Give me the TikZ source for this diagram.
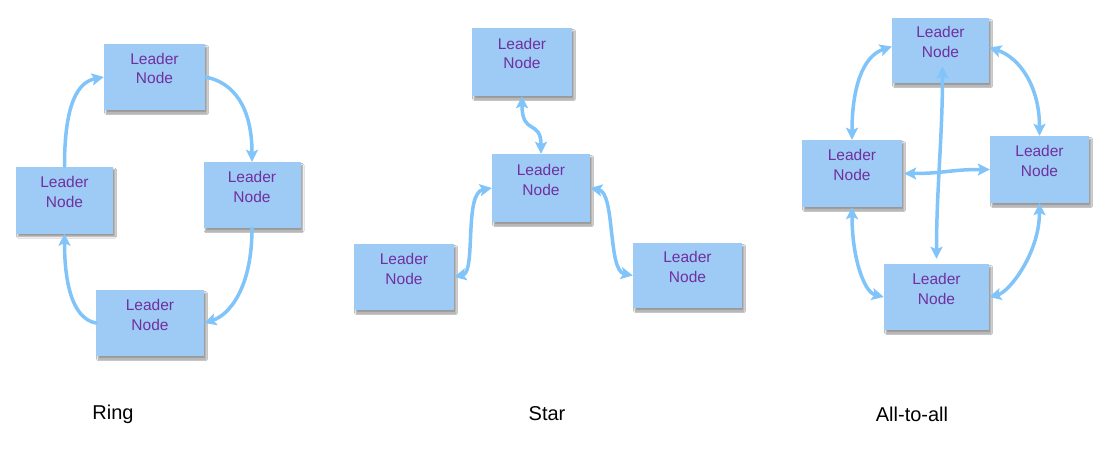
\documentclass[tikz,border=0pt]{standalone}
\usepackage{fontspec}
\setmainfont{Liberation Sans}
\usetikzlibrary{arrows.meta,shadows.blur,calc}
\definecolor{boxfill}{HTML}{9DCBF5}
\definecolor{txtpurple}{HTML}{7030A0}
\definecolor{arrowblue}{HTML}{80C4FA}
\newcommand\ldrnode{\begin{tabular}[b]{@{}c@{}}Leader\\Node\end{tabular}}
\tikzset{
  ln/.style={rectangle, fill=boxfill, text=txtpurple, align=center,
    font=\fontsize{15.5}{20}\selectfont, inner sep=0pt, text depth=20pt,
    blur shadow={shadow xshift=2pt, shadow yshift=-3pt, shadow blur radius=1.5pt, shadow opacity=40}},
  conn/.style={draw=arrowblue, line width=3.5pt, line cap=round},
  tipone/.style={conn, -{Stealth[length=12pt,width=12pt,inset=2.5pt]}},
  tiptwo/.style={conn, {Stealth[length=12pt,width=12pt,inset=2.5pt]}-{Stealth[length=12pt,width=12pt,inset=2.5pt]}},
  caption/.style={font=\fontsize{20}{24}\selectfont, text=black}
}
\begin{document}
\begin{tikzpicture}[x=1pt,y=-1pt]
\useasboundingbox[fill=white] (0,0) rectangle (1116,460);

% Ring
\node[ln, minimum width=101pt, minimum height=66pt] (rt) at (154.5,77) {\ldrnode};
\node[ln, minimum width=97pt, minimum height=66pt] (rr) at (252,195) {\ldrnode};
\node[ln, minimum width=97pt, minimum height=67pt] (rl) at (64.5,200) {\ldrnode};
\node[ln, minimum width=108pt, minimum height=66pt] (rb) at (150,323) {\ldrnode};

\draw[tipone] (rl.north) .. controls +(0,-65) and +(-25,5) .. (rt.west);
\draw[tipone] (rt.east) .. controls +(28,5) and +(0,-55) .. (rr.north);
\draw[tipone] (rr.south) .. controls +(0,60) and +(25,-8) .. (rb.east);
\draw[tipone] (rb.west) .. controls +(-25,-5) and +(0,45) .. (rl.south);

% Star
\node[ln, minimum width=100pt, minimum height=68pt] (st) at (522,62) {\ldrnode};
\node[ln, minimum width=98pt, minimum height=68pt] (sc) at (541,188) {\ldrnode};
\node[ln, minimum width=100pt, minimum height=66pt] (sl) at (404,277) {\ldrnode};
\node[ln, minimum width=109pt, minimum height=65pt] (sr) at (687.5,275.5) {\ldrnode};

\draw[tiptwo] (st.south) .. controls +(0,40) and +(0,-35) .. (sc.north);
\draw[tiptwo] (sc.west) .. controls +(-28,5) and +(22,-5) .. (sl.east);
\draw[tiptwo] (sc.east) .. controls +(25,5) and +(-25,-5) .. (sr.west);

% All-to-all
\node[ln, minimum width=97pt, minimum height=65pt] (at) at (940.5,50.5) {\ldrnode};
\node[ln, minimum width=100pt, minimum height=67pt] (al) at (852,173.5) {\ldrnode};
\node[ln, minimum width=99pt, minimum height=67pt] (ar) at (1039.5,169.5) {\ldrnode};
\node[ln, minimum width=105pt, minimum height=66pt] (ab) at (936.5,297) {\ldrnode};

\coordinate (vtop) at ($(at.center)+(2,16)$);
\coordinate (vbot) at ($(ab.north)+(0,-5)$);

\draw[tiptwo] ($(at.west)+(0,-4)$) .. controls +(-30,10) and +(0,-50) .. (al.north);
\draw[tiptwo] ($(at.east)+(0,-3)$) .. controls +(30,10) and +(0,-50) .. (ar.north);
\draw[tiptwo] (al.south) .. controls +(0,50) and +(-20,-5) .. (ab.west);
\draw[tiptwo] (ar.south) .. controls +(0,50) and +(20,-5) .. (ab.east);
\draw[tiptwo] (vtop) .. controls +(0,70) and +(0,-70) .. (vbot);
\draw[tiptwo] ($(al.east)+(2,0)$) .. controls +(40,0) and +(-40,0) .. (ar.west);

% Captions
\node[caption] (capring) at (113,414) {Ring};
\node[caption] (capstar) at (547,414) {Star};
\node[caption] (capall) at (912,414) {All-to-all};
\end{tikzpicture}
\end{document}
